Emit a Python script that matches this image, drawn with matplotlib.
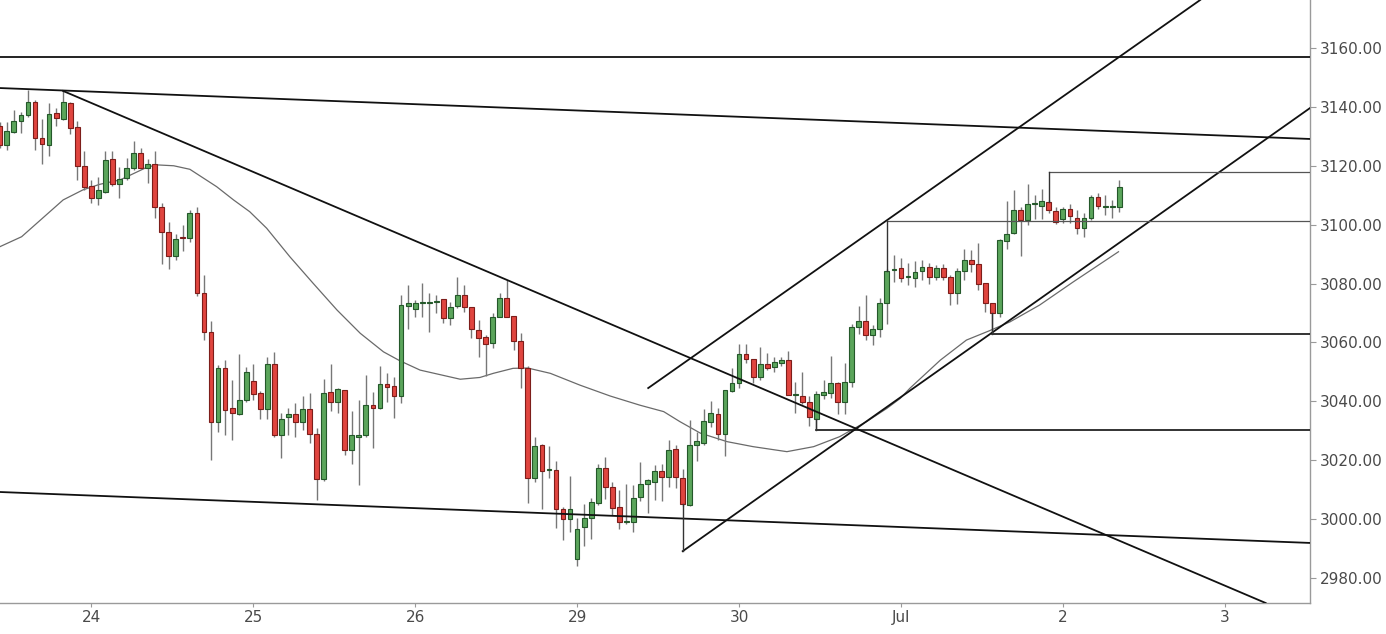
import matplotlib
matplotlib.use('Agg')
import matplotlib.pyplot as plt
import numpy as np

# hourly candles, index 0 = first bar of the 24th session (23 bars per session)
first_idx = -13
opens = [3133.5, 3127.1, 3131.6, 3135.3, 3137.2, 3141.8, 3129.3, 3127.1, 3137.8, 3135.8,
         3141.4, 3133.1, 3120.0, 3113.1, 3109.2, 3111.2, 3122.3, 3113.7, 3115.7, 3119.2,
         3124.4, 3119.2, 3120.5, 3105.9, 3097.6, 3089.3, 3095.7, 3095.6, 3103.9, 3076.9,
         3063.6, 3032.9, 3051.2, 3037.6, 3035.6, 3040.4, 3046.9, 3042.9, 3037.4, 3052.7,
         3028.5, 3034.8, 3035.7, 3032.9, 3037.3, 3028.9, 3013.5, 3043.0, 3039.9, 3043.8,
         3023.3, 3028.0, 3028.5, 3038.7, 3037.7, 3045.8, 3045.2, 3041.9, 3072.4, 3071.3,
         3073.3, 3073.4, 3073.6, 3074.7, 3068.2, 3072.4, 3076.1, 3071.9, 3064.2, 3061.7,
         3059.7, 3068.7, 3075.2, 3068.9, 3060.5, 3051.4, 3014.0, 3025.1, 3016.7, 3016.7,
         3003.4, 2999.9, 2986.4, 2997.2, 3000.3, 3005.4, 3017.5, 3011.0, 3004.2, 2999.1,
         2999.1, 3007.4, 3011.8, 3012.7, 3016.3, 3014.4, 3023.7, 3014.0, 3004.8, 3025.1,
         3025.9, 3032.9, 3035.6, 3028.8, 3043.6, 3046.3, 3056.0, 3054.4, 3048.1, 3052.7,
         3051.8, 3053.1, 3054.0, 3042.1, 3041.8, 3039.6, 3034.1, 3042.1, 3042.7, 3046.3,
         3039.9, 3046.7, 3065.1, 3067.4, 3062.5, 3064.5, 3073.5, 3084.6, 3085.2, 3082.3,
         3082.0, 3084.4, 3085.7, 3082.3, 3085.2, 3082.1, 3076.7, 3084.4, 3088.0, 3086.6,
         3080.1, 3073.3, 3069.9, 3094.4, 3097.3, 3105.0, 3101.6, 3106.9, 3106.4, 3107.8,
         3104.7, 3101.8, 3105.3, 3102.2, 3098.8, 3102.2, 3109.3, 3106.1, 3106.1, 3105.9]
highs = [3135.0, 3135.0, 3138.9, 3138.3, 3145.7, 3142.5, 3135.8, 3141.2, 3139.5, 3145.4,
         3141.8, 3135.3, 3125.0, 3115.2, 3116.3, 3125.0, 3125.0, 3119.5, 3122.5, 3128.5,
         3125.9, 3122.3, 3125.0, 3107.5, 3101.0, 3096.8, 3099.8, 3105.0, 3105.9, 3082.9,
         3067.4, 3052.3, 3054.0, 3047.2, 3056.0, 3051.7, 3052.7, 3043.5, 3055.2, 3056.7,
         3035.9, 3037.6, 3039.5, 3041.8, 3042.7, 3031.0, 3047.6, 3052.6, 3044.5, 3044.0,
         3036.8, 3040.4, 3048.9, 3043.3, 3052.1, 3049.5, 3048.4, 3076.1, 3079.5, 3074.4,
         3080.3, 3076.9, 3076.1, 3074.7, 3073.8, 3082.3, 3079.5, 3072.0, 3067.6, 3062.5,
         3069.9, 3076.9, 3081.2, 3069.0, 3063.3, 3052.0, 3027.9, 3025.5, 3024.8, 3019.7,
         3004.0, 3014.6, 3000.3, 3005.1, 3007.1, 3018.6, 3021.2, 3012.7, 3009.9, 3011.9,
         3011.6, 3019.5, 3013.5, 3018.4, 3018.6, 3026.8, 3025.1, 3016.9, 3033.8, 3029.7,
         3037.4, 3040.0, 3037.8, 3043.8, 3051.2, 3059.4, 3059.4, 3054.4, 3058.5, 3056.5,
         3055.1, 3055.0, 3057.2, 3046.7, 3050.1, 3041.8, 3043.5, 3047.2, 3055.4, 3046.5,
         3053.1, 3066.3, 3072.4, 3076.1, 3066.0, 3075.0, 3085.0, 3089.7, 3088.6, 3086.9,
         3087.5, 3088.0, 3086.9, 3086.3, 3086.6, 3082.9, 3085.2, 3091.6, 3091.4, 3093.7,
         3080.1, 3073.3, 3095.0, 3108.1, 3111.8, 3106.1, 3113.7, 3110.1, 3112.0, 3108.5,
         3106.1, 3106.1, 3107.0, 3105.0, 3103.9, 3110.1, 3110.8, 3110.1, 3108.4, 3115.2]
lows = [3126.0, 3125.4, 3131.0, 3131.0, 3136.7, 3125.4, 3120.6, 3123.3, 3133.5, 3135.5,
        3130.8, 3115.2, 3111.8, 3107.5, 3106.7, 3110.9, 3113.0, 3109.0, 3115.2, 3118.6,
        3118.8, 3114.0, 3102.2, 3086.6, 3085.0, 3088.0, 3091.0, 3094.2, 3075.8, 3060.8,
        3020.0, 3029.7, 3028.5, 3026.8, 3035.3, 3039.8, 3040.4, 3034.1, 3034.1, 3028.0,
        3020.6, 3028.5, 3028.0, 3030.2, 3026.0, 3006.5, 3013.0, 3036.8, 3035.9, 3021.8,
        3018.7, 3011.5, 3028.0, 3024.0, 3037.5, 3039.9, 3034.4, 3039.3, 3064.5, 3068.7,
        3068.7, 3063.6, 3069.9, 3066.5, 3065.9, 3071.6, 3070.4, 3061.4, 3055.1, 3048.6,
        3058.0, 3068.5, 3068.5, 3057.4, 3044.4, 3005.6, 3012.7, 3003.3, 3013.8, 2997.0,
        2992.9, 2995.7, 2983.9, 2990.9, 2993.1, 3004.8, 3006.7, 3001.4, 2996.5, 2998.5,
        2995.7, 3006.3, 3002.0, 3006.5, 3006.3, 3011.0, 3010.5, 3004.5, 3004.4, 3019.7,
        3025.1, 3031.3, 3026.8, 3021.4, 3043.0, 3044.4, 3052.9, 3046.3, 3047.2, 3050.8,
        3050.1, 3052.0, 3042.0, 3036.1, 3039.1, 3031.6, 3030.6, 3040.7, 3041.0, 3035.6,
        3035.6, 3045.0, 3063.0, 3060.8, 3059.0, 3062.0, 3066.3, 3080.6, 3080.6, 3079.5,
        3078.9, 3081.2, 3079.8, 3081.2, 3081.2, 3072.7, 3073.0, 3081.2, 3084.0, 3077.8,
        3070.4, 3063.2, 3068.5, 3091.6, 3096.8, 3089.3, 3099.9, 3101.8, 3101.8, 3103.9,
        3100.2, 3100.5, 3100.5, 3096.8, 3095.7, 3101.6, 3105.2, 3103.3, 3102.2, 3104.4]
closes = [3127.1, 3131.8, 3135.3, 3137.2, 3141.6, 3129.3, 3127.3, 3137.6, 3136.1, 3141.6,
          3132.7, 3119.8, 3112.7, 3109.2, 3111.8, 3122.0, 3113.7, 3115.5, 3119.2, 3124.2,
          3119.2, 3120.5, 3105.9, 3097.6, 3089.3, 3095.0, 3095.6, 3103.9, 3076.7, 3063.6,
          3032.9, 3051.2, 3037.2, 3035.9, 3040.4, 3050.1, 3042.4, 3037.4, 3052.7, 3028.5,
          3034.1, 3035.7, 3032.9, 3037.3, 3028.9, 3013.5, 3042.9, 3039.9, 3044.1, 3023.3,
          3028.5, 3028.7, 3038.9, 3037.6, 3045.8, 3044.7, 3041.9, 3072.7, 3073.5, 3073.3,
          3073.3, 3073.4, 3074.2, 3068.2, 3072.1, 3076.1, 3071.9, 3064.5, 3061.6, 3059.4,
          3068.7, 3075.2, 3068.7, 3060.5, 3051.4, 3014.0, 3024.8, 3016.4, 3016.7, 3003.4,
          2999.9, 3003.3, 2996.5, 3000.3, 3005.7, 3017.5, 3010.8, 3003.9, 2998.9, 2999.1,
          3007.1, 3011.8, 3013.3, 3016.4, 3014.4, 3023.5, 3014.4, 3005.0, 3025.1, 3026.5,
          3033.3, 3035.9, 3028.8, 3043.8, 3046.3, 3056.0, 3054.4, 3048.1, 3052.7, 3051.4,
          3053.2, 3054.0, 3042.1, 3042.1, 3039.6, 3034.8, 3042.4, 3043.0, 3046.3, 3039.6,
          3046.7, 3065.3, 3067.4, 3062.5, 3064.5, 3073.5, 3084.4, 3084.6, 3082.0, 3082.3,
          3084.0, 3085.7, 3082.3, 3085.2, 3082.1, 3076.9, 3084.4, 3088.0, 3086.6, 3079.8,
          3073.3, 3070.1, 3094.8, 3096.8, 3105.0, 3101.6, 3106.9, 3106.9, 3108.0, 3105.0,
          3101.0, 3105.3, 3102.9, 3098.8, 3102.2, 3109.3, 3106.3, 3106.1, 3106.1, 3112.7]

# moving average (bar index, price)
ma_idx = [-13, -9.9, -4, -1.2, 1.2, 4.1, 7.9, 9.3, 11.7, 14, 17.8, 20.2, 22.5, 24.9, 28.2,
          31.5, 34.9, 38.2, 41.5, 43.8, 46.7, 52.4, 55.2, 57.1, 59.9, 62, 65.2, 69.4, 73.7,
          77.9, 81.3, 83.6, 86.5, 90.3, 94, 98.8, 102.6, 106.3, 110.1, 113, 114.9, 116.3,
          120.6, 124.3, 127.6, 130.5, 134.7, 139.5, 145.9]
ma_val = [3092.5, 3095.9, 3108.4, 3111.8, 3113.7, 3115.2, 3119.5, 3120.3, 3120.0, 3118.8,
          3112.9, 3108.4, 3104.4, 3098.8, 3089.1, 3080.1, 3071.0, 3063.1, 3056.8, 3053.8,
          3050.6, 3047.5, 3048.1, 3049.5, 3051.2, 3051.3, 3049.5, 3045.5, 3041.8, 3038.7,
          3036.5, 3033.1, 3029.2, 3026.3, 3024.6, 3022.9, 3024.6, 3028.0, 3033.1, 3037.6,
          3041.0, 3044.5, 3054.0, 3060.8, 3064.0, 3067.0, 3072.7, 3080.6, 3090.8]

# drawings: (x0, y0, x1, y1) in bar index / price
trend_lines = [
    (-13, 3156.8, 173.1, 3156.8),
    (-13, 3146.4, 173.1, 3129.1),
    (-4, 3145.4, 166.8, 2971.5),
    (-13, 3009.2, 173.1, 2991.9),
    (84, 2989.1, 173.1, 3139.6),
    (79.1, 3044.5, 157.5, 3176.3),
]
level_lines = [  # (start bar, price, color, width)
    (113, 3101.3, '#555555', 0.9),
    (136, 3118.0, '#555555', 0.9),
    (128, 3062.8, '#111111', 1.2),
    (103, 3030.1, '#111111', 1.2),
]
stems = [(84, 3005.0, 2989.1), (113, 3084.4, 3101.3), (136, 3107.8, 3118.0),
         (128, 3070.1, 3062.8), (103, 3034.1, 3030.1)]

tick_pos = [0, 23, 46, 69, 92, 115, 138, 161]
tick_lab = ['24', '25', '26', '29', '30', 'Jul', '2', '3']
y_ticks = [2980, 3000, 3020, 3040, 3060, 3080, 3100, 3120, 3140, 3160]

fig = plt.figure(figsize=(13.86, 6.34), dpi=100)
ax = fig.add_axes([0, 31 / 634, 1310 / 1386, 603 / 634])

up_fill, up_edge = '#5ba55b', '#24582a'
dn_fill, dn_edge = '#e0453f', '#7d1d1a'
idx = np.arange(first_idx, first_idx + len(opens))
o = np.array(opens); h = np.array(highs); l = np.array(lows); c = np.array(closes)
up = c >= o
ax.vlines(idx, l, h, color='#777777', lw=1.0, zorder=2)
body_lo = np.minimum(o, c)
body_h = np.maximum(np.abs(c - o), 0.35)
ax.bar(idx[up], body_h[up], bottom=body_lo[up], width=0.68,
       color=up_fill, edgecolor=up_edge, lw=0.8, zorder=3)
ax.bar(idx[~up], body_h[~up], bottom=body_lo[~up], width=0.68,
       color=dn_fill, edgecolor=dn_edge, lw=0.8, zorder=3)

ax.plot(ma_idx, ma_val, color='#6a6a6a', lw=0.9, zorder=1)

for x0, y0, x1, y1 in trend_lines:
    ax.plot([x0, x1], [y0, y1], color='#111111', lw=1.3, zorder=4)
for x0, p, col, w in level_lines:
    ax.plot([x0, 173.1], [p, p], color=col, lw=w, zorder=4)
for x0, y0, y1 in stems:
    ax.plot([x0, x0], [y0, y1], color='#333333', lw=1.0, zorder=4)

ax.set_xlim(-12.97, 173.1)
ax.set_ylim(2971.5, 3176.3)
ax.set_xticks(tick_pos)
ax.set_xticklabels(tick_lab)
ax.set_yticks(y_ticks)
ax.set_yticklabels(['%.2f' % v for v in y_ticks])
ax.yaxis.tick_right()
for s in ['top', 'left']:
    ax.spines[s].set_visible(False)
for s in ['right', 'bottom']:
    ax.spines[s].set_color('#9a9a9a')
    ax.spines[s].set_linewidth(1.0)
ax.tick_params(axis='y', colors='#9a9a9a', labelcolor='#4a4a4a', labelsize=11,
               length=4, pad=3)
ax.tick_params(axis='x', colors='#9a9a9a', labelcolor='#4a4a4a', labelsize=11,
               length=3, pad=2)

fig.savefig('out.png', dpi=100)
